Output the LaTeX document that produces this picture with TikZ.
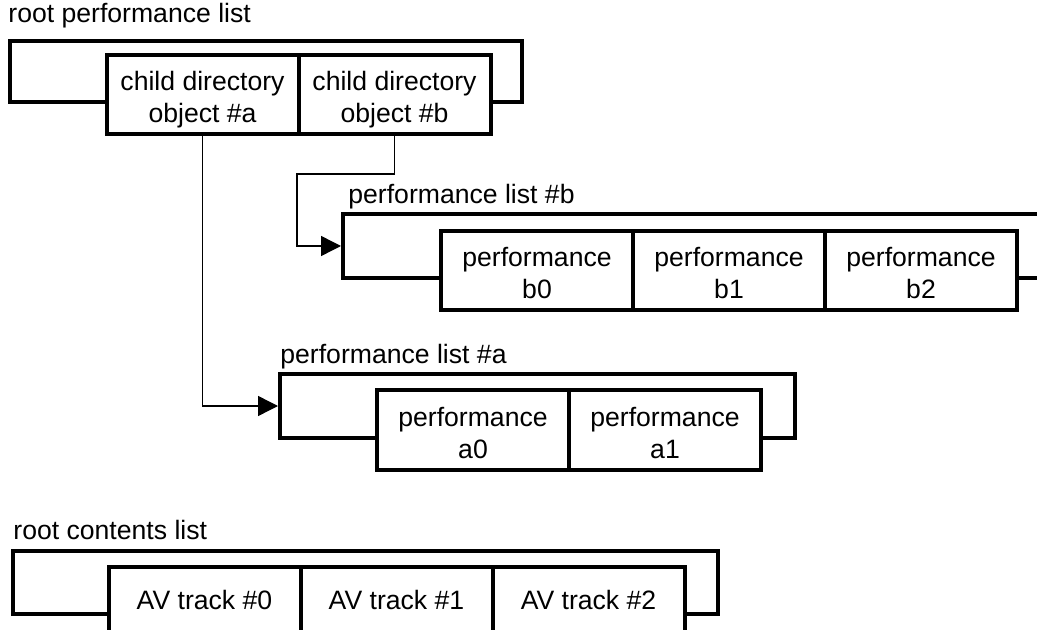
\documentclass[tikz,border=0pt]{standalone}
\usepackage{fontspec}
\setmainfont{Liberation Sans}
\usetikzlibrary{arrows.meta}
\newcommand{\twoline}[2]{\rule{0pt}{15pt}#1\\#2\rule[-3pt]{0pt}{3pt}}
\newcommand{\oneline}[1]{\rule[-7.5pt]{0pt}{17.5pt}#1}
\begin{document}
\begin{tikzpicture}[x=0.5pt,y=-0.5pt,
  every node/.style={font=\fontsize{13.3pt}{16pt}\selectfont},
  frame/.style={draw, line width=2pt, inner sep=0pt},
  cell/.style={draw, fill=white, line width=2pt, inner sep=0pt, align=center,
    minimum width=96pt, minimum height=39.5pt},
  lbl/.style={anchor=base west, inner sep=0pt},
  conn/.style={line width=0.7pt, -{Triangle[length=10pt,width=10pt]}}]
\useasboundingbox (0,0) rectangle (1037,630);
\clip (0,0) rectangle (1037,630);

% root performance list
\node[lbl] (lroot) at (8,23) {root performance list};
\node[frame, minimum width=256pt, minimum height=30.5pt] (rf) at (266,71.5) {};
\node[cell] (ka) at (202.5,94.5) {\twoline{child directory}{object \#a}};
\node[cell] (kb) at (394.5,94.5) {\twoline{child directory}{object \#b}};

% performance list #b
\node[lbl] (lb) at (348,204) {performance list \#b};
\node[frame, minimum width=358.5pt, minimum height=32pt] (fb) at (701.5,246) {};
\node[cell] (b0) at (537,270.5) {\twoline{performance}{b0}};
\node[cell] (b1) at (729,270.5) {\twoline{performance}{b1}};
\node[cell] (b2) at (921,270.5) {\twoline{performance}{b2}};

% performance list #a
\node[lbl] (la) at (280,363) {performance list \#a};
\node[frame, minimum width=257.5pt, minimum height=32pt] (fa) at (537.5,406) {};
\node[cell, minimum height=40pt] (a0) at (473,430) {\twoline{performance}{a0}};
\node[cell, minimum height=40pt] (a1) at (665,430) {\twoline{performance}{a1}};

% root contents list
\node[lbl] (lc) at (13,539) {root contents list};
\node[frame, minimum width=352.5pt, minimum height=31.5pt] (cf) at (365.5,582.5) {};
\node[cell] (t0) at (204.5,606.5) {\oneline{AV track \#0}};
\node[cell] (t1) at (396.5,606.5) {\oneline{AV track \#1}};
\node[cell] (t2) at (588.5,606.5) {\oneline{AV track \#2}};

% connectors
\coordinate (bb) at (297,174);
\draw[conn] (kb.south) |- (bb) |- (fb.west);
\draw[conn] (ka.south) |- (fa.west);
\end{tikzpicture}
\end{document}
